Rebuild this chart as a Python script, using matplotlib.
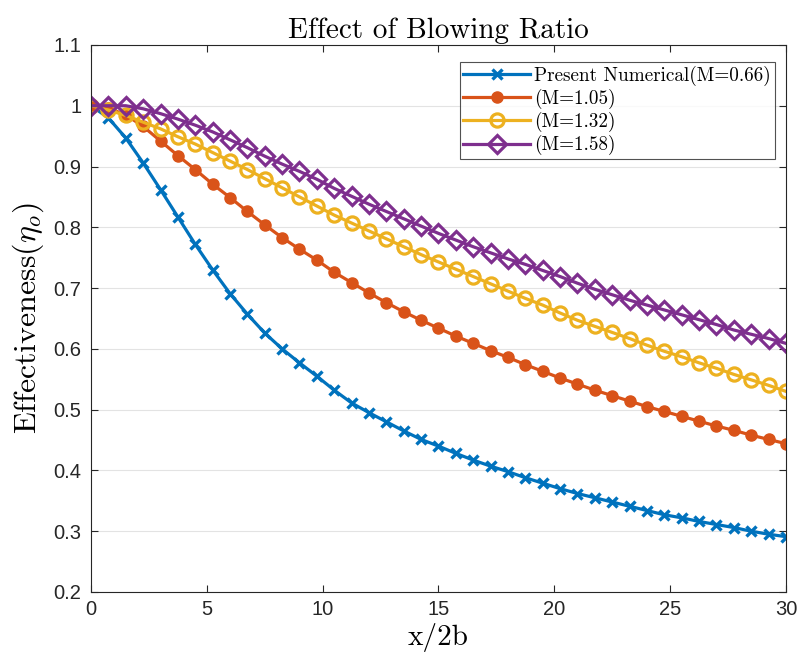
import matplotlib
matplotlib.use("Agg")
import matplotlib.pyplot as plt
import numpy as np

plt.rcParams['mathtext.fontset'] = 'cm'
plt.rcParams['axes.unicode_minus'] = False

x_vals = [i * 0.75 for i in range(41)]

eta_m066 = [1.000, 0.980, 0.947, 0.906, 0.862, 0.817, 0.772, 0.730, 0.691, 0.657,
            0.626, 0.600, 0.577, 0.555, 0.532, 0.511, 0.495, 0.480, 0.465, 0.451,
            0.440, 0.428, 0.417, 0.407, 0.398, 0.388, 0.379, 0.370, 0.362, 0.355,
            0.348, 0.341, 0.334, 0.327, 0.322, 0.316, 0.311, 0.306, 0.300, 0.295,
            0.291]
eta_m105 = [1.000, 0.996, 0.985, 0.966, 0.942, 0.918, 0.895, 0.871, 0.849, 0.826,
            0.804, 0.783, 0.764, 0.746, 0.726, 0.709, 0.692, 0.676, 0.661, 0.647,
            0.634, 0.621, 0.609, 0.597, 0.586, 0.574, 0.563, 0.552, 0.542, 0.532,
            0.523, 0.514, 0.505, 0.497, 0.489, 0.481, 0.473, 0.466, 0.458, 0.451,
            0.444]
eta_m132 = [1.000, 0.993, 0.984, 0.973, 0.962, 0.949, 0.937, 0.923, 0.909, 0.895,
            0.880, 0.865, 0.850, 0.835, 0.820, 0.807, 0.794, 0.781, 0.768, 0.755,
            0.743, 0.731, 0.719, 0.707, 0.695, 0.683, 0.672, 0.659, 0.647, 0.637,
            0.627, 0.617, 0.606, 0.596, 0.587, 0.577, 0.568, 0.558, 0.549, 0.540,
            0.530]
eta_m158 = [1.000, 1.000, 1.000, 0.995, 0.987, 0.978, 0.968, 0.957, 0.944, 0.931,
            0.917, 0.904, 0.892, 0.879, 0.864, 0.851, 0.838, 0.826, 0.814, 0.802,
            0.790, 0.779, 0.768, 0.758, 0.748, 0.739, 0.729, 0.719, 0.708, 0.698,
            0.689, 0.680, 0.672, 0.664, 0.656, 0.648, 0.640, 0.631, 0.624, 0.617,
            0.609]

labels = ['Present Numerical(M=0.66)', '(M=1.05)', '(M=1.32)', '(M=1.58)']
colors = ['#0072BD', '#D95319', '#EDB120', '#7E2F8E']

x_ticks = [0, 5, 10, 15, 20, 25, 30]
y_ticks = [0.2, 0.3, 0.4, 0.5, 0.6, 0.7, 0.8, 0.9, 1.0, 1.1]
y_ticklabels = ['0.2', '0.3', '0.4', '0.5', '0.6', '0.7', '0.8', '0.9', '1', '1.1']

fig = plt.figure(figsize=(7.99, 6.68), dpi=100)
ax = fig.add_axes([0.1139, 0.1138, 0.8698, 0.8189])

lw = 2.3
ax.plot(x_vals, eta_m066, color=colors[0], lw=lw, marker='x', ms=7.5, mew=2.4, label=labels[0])
ax.plot(x_vals, eta_m105, color=colors[1], lw=lw, marker='o', ms=8, mfc=colors[1], mec=colors[1], label=labels[1])
ax.plot(x_vals, eta_m132, color=colors[2], lw=lw, marker='o', ms=9.5, mfc='none', mec=colors[2], mew=2.3, label=labels[2])
ax.plot(x_vals, eta_m158, color=colors[3], lw=lw, marker='D', ms=9.5, mfc='none', mec=colors[3], mew=2.3, label=labels[3])

ax.set_xlim(0, 30)
ax.set_ylim(0.2, 1.1)
ax.set_xticks(x_ticks)
ax.set_xticklabels([str(t) for t in x_ticks])
ax.set_yticks(y_ticks)
ax.set_yticklabels(y_ticklabels)
ax.tick_params(direction='in', length=5, width=0.8, top=True, right=True,
               labelsize=14.5, colors='#262626')
ax.tick_params(axis='x', pad=6)
ax.tick_params(axis='y', pad=7)
for lab in ax.get_xticklabels() + ax.get_yticklabels():
    lab.set_fontfamily('Liberation Sans')
ax.yaxis.grid(True, color='#e3e3e3', lw=0.8)
ax.set_axisbelow(True)
for s in ax.spines.values():
    s.set_color('#262626')
    s.set_linewidth(0.8)

ax.set_title('Effect of Blowing Ratio', fontfamily='cmr10', fontsize=21, pad=5)
ax.set_xlabel('x/2b', fontfamily='cmr10', fontsize=21, labelpad=3)
ax.set_ylabel(r'Effectiveness$(\eta_o)$', fontfamily='cmr10', fontsize=23, labelpad=5)

leg = ax.legend(loc='upper right', bbox_to_anchor=(0.984, 0.969),
                prop={'family': 'cmr10', 'size': 13.8},
                frameon=True, fancybox=False, edgecolor='#262626',
                handlelength=3.5, handletextpad=0.2, labelspacing=0.16,
                borderpad=0.2, borderaxespad=0.0)
leg.get_frame().set_linewidth(0.8)

fig.savefig('out.png', dpi=100)
